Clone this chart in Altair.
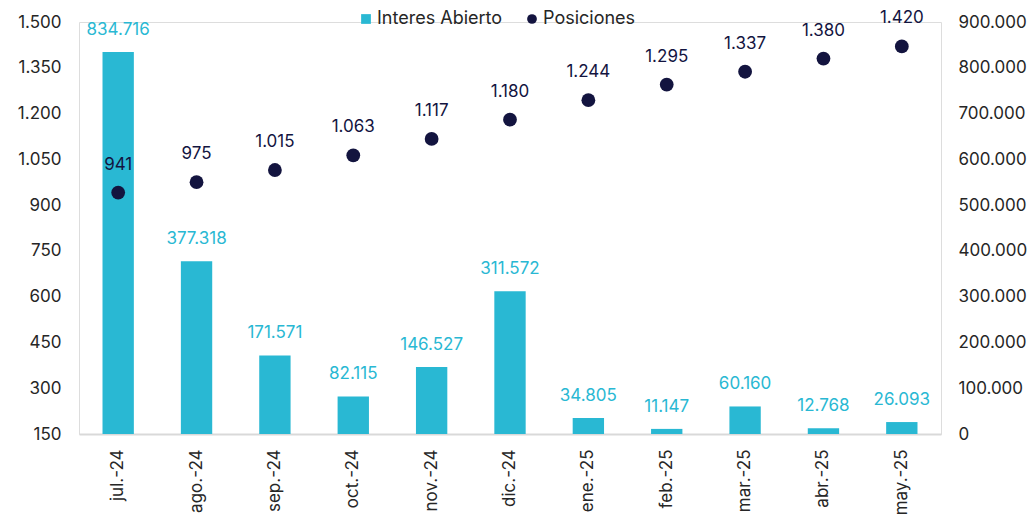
import altair as alt
import pandas as pd

meses = ["jul.-24", "ago.-24", "sep.-24", "oct.-24", "nov.-24", "dic.-24",
         "ene.-25", "feb.-25", "mar.-25", "abr.-25", "may.-25"]
interes_abierto = [834716, 377318, 171571, 82115, 146527, 311572,
                   34805, 11147, 60160, 12768, 26093]
posiciones = [941, 975, 1015, 1063, 1117, 1180, 1244, 1295, 1337, 1380, 1420]
series = ["Interes Abierto", "Posiciones"]
left_ticks = [150, 300, 450, 600, 750, 900, 1050, 1200, 1350, 1500]
right_ticks = [0, 100000, 200000, 300000, 400000, 500000, 600000, 700000, 800000, 900000]

CYAN = "#29B8D3"
NAVY = "#13143F"
TXT = "#262626"
FONT = "Inter"

df = pd.DataFrame({"mes": meses, "ia": interes_abierto, "pos": posiciones})

fmt = "replace(format(datum.value, ','), ',', '.')"

x = alt.X("mes:N", sort=meses, title=None,
          scale=alt.Scale(paddingInner=0.6, paddingOuter=0.3),
          axis=alt.Axis(labelAngle=-90, labelPadding=15, ticks=False,
                        domainColor="#D9D9D9", domainWidth=2,
                        labelFontSize=17, labelColor=TXT, labelFont=FONT))

legend = alt.Legend(orient="none", legendX=278, legendY=-12,
                    direction="horizontal", title=None,
                    labelFontSize=18, labelColor=TXT, labelFont=FONT,
                    symbolSize=95, symbolStrokeWidth=0,
                    labelOffset=2, columnPadding=20, padding=0)

color = alt.Color("serie:N", scale=alt.Scale(domain=series, range=[CYAN, NAVY]),
                  legend=legend)
shape = alt.Shape("serie:N", scale=alt.Scale(domain=series, range=["square", "circle"]),
                  legend=legend)

y_right = alt.Y("ia:Q", title=None,
                scale=alt.Scale(domain=[0, 900000], nice=False),
                axis=alt.Axis(orient="right", values=right_ticks, labelExpr=fmt,
                              ticks=False, domain=False, grid=False,
                              labelPadding=17, labelFontSize=17,
                              labelColor=TXT, labelFont=FONT))

y_left = alt.Y("pos:Q", title=None,
               scale=alt.Scale(domain=[150, 1500], nice=False),
               axis=alt.Axis(orient="left", values=left_ticks, labelExpr=fmt,
                             ticks=False, domain=False, grid=False,
                             labelPadding=18, labelFontSize=17,
                             labelColor=TXT, labelFont=FONT))

base = alt.Chart(df)

bars = base.transform_calculate(serie="'Interes Abierto'").mark_bar().encode(
    x=x, y=y_right, color=color
)
bar_text = base.transform_calculate(
    lbl="replace(format(datum.ia, ','), ',', '.')"
).mark_text(dy=-22, baseline="middle", fontSize=17, color=CYAN, font=FONT).encode(
    x=x, y=y_right, text="lbl:N"
)

pts = base.transform_calculate(serie="'Posiciones'").mark_point(
    filled=True, opacity=1, size=190
).encode(
    x=x, y=y_left, color=color, shape=shape,
)
pt_text = base.transform_calculate(
    lbl="replace(format(datum.pos, ','), ',', '.')"
).mark_text(dy=-28, baseline="middle", fontSize=17, color=NAVY, font=FONT).encode(
    x=x, y=y_left, text="lbl:N"
)

chart = alt.layer(
    alt.layer(bars, bar_text),
    alt.layer(pts, pt_text),
).resolve_scale(y="independent").properties(
    width=862, height=412,
    autosize=alt.AutoSizeParams(type="none"),
    padding={"left": 71, "top": 14, "right": 86, "bottom": 87},
).configure_view(stroke=None).configure(font=FONT)

chart.save("out.html", embed_options={"renderer": "svg", "actions": False})
